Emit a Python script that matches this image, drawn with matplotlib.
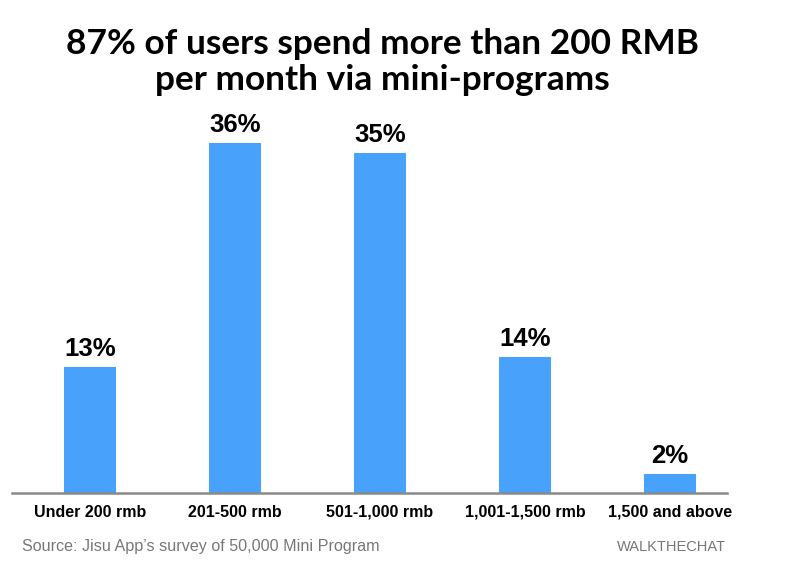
import matplotlib.pyplot as plt

categories = ["Under 200 rmb", "201-500 rmb", "501-1,000 rmb", "1,001-1,500 rmb", "1,500 and above"]
shares = [13, 36, 35, 14, 2]

fig = plt.figure(figsize=(8, 5.71), dpi=100)
ax = fig.add_axes([12 / 800, 1 - 493 / 571, (727 - 12) / 800, (493 - 104) / 571])

x = range(len(categories))
ax.bar(x, shares, width=0.365, color="#48A2FB")
for i, v in zip(x, shares):
    ax.text(i, v + 0.6, f"{v}%", ha="center", va="bottom",
            fontsize=18.5, fontweight="bold", family="Liberation Sans")

ax.set_xlim(-0.538, 4.393)
ax.set_ylim(0, 40)
ax.set_yticks([])
ax.set_xticks(list(x))
ax.set_xticklabels(categories, fontsize=11.5, fontweight="bold", family="Liberation Sans")
for lab in ax.get_xticklabels():
    lab.set_verticalalignment("baseline")
ax.tick_params(axis="x", length=0, pad=17)
for s in ["top", "right", "left"]:
    ax.spines[s].set_visible(False)
ax.spines["bottom"].set_color("#8a8a8a")
ax.spines["bottom"].set_linewidth(1.8)

fig.text(0.4775, 1 - 62 / 571, "87% of users spend more than 200 RMB\nper month via mini-programs",
         ha="center", va="center", fontsize=25.4, fontweight="bold", family="Lato",
         linespacing=1.18)
fig.text(22 / 800, 1 - 547 / 571, "Source: Jisu App\u2019s survey of 50,000 Mini Program",
         ha="left", va="center", fontsize=11.6, color="#777777", family="Liberation Sans")
fig.text(726 / 800, 1 - 547 / 571, "WALKTHECHAT",
         ha="right", va="center", fontsize=10.5, color="#777777", family="Liberation Sans")

fig.savefig("out.png", dpi=100)
